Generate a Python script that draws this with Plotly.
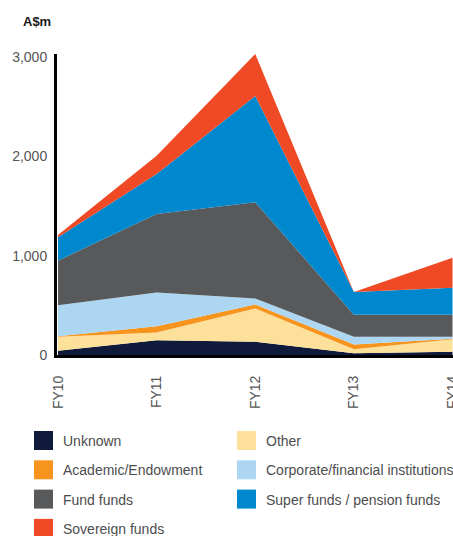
import plotly.graph_objects as go

# Financial years on the horizontal axis
years = ["FY10", "FY11", "FY12", "FY13", "FY14"]

# Commitments by investor type, A$m (stacked bottom to top)
unknown = [42, 149, 133, 18, 32]
other = [141, 77, 334, 40, 127]
academic = [6, 64, 41, 47, 5]
corporate = [311, 338, 60, 78, 19]
fund_funds = [450, 792, 969, 223, 223]
super_funds = [235, 402, 1070, 229, 272]
sovereign = [22, 183, 423, 0, 302]

series_names = [
    "Unknown",
    "Other",
    "Academic/Endowment",
    "Corporate/financial institutions",
    "Fund funds",
    "Super funds / pension funds",
    "Sovereign funds",
]
series_values = [unknown, other, academic, corporate, fund_funds, super_funds, sovereign]
series_colors = ["#101a3a", "#fde09a", "#f7941d", "#acd6f1", "#58595b", "#0088cf", "#ef4a25"]

y_ticks = [0, 1000, 2000, 3000]

W, H = 453, 536
L, R, T, B = 57, 0, 54, 181
PW, PH = W - L - R, H - T - B

fig = go.Figure()
x_idx = list(range(len(years)))
for name, vals, col in zip(series_names, series_values, series_colors):
    fig.add_trace(go.Scatter(
        x=x_idx, y=vals, name=name, stackgroup="one", mode="lines",
        line=dict(width=0, color=col), fillcolor=col, showlegend=False,
        hoverinfo="x+y+name",
    ))


def px_to_paper(px, py):
    return (px - L) / PW, (H - B - py) / PH


# Hand-laid two-column legend (row-major order)
shapes = []
annotations = []
col_x = [34, 237]
row_y0 = 431
row_gap = 29.3
for i, (name, col) in enumerate(zip(series_names, series_colors)):
    r, c = divmod(i, 2)
    sx = col_x[c]
    sy = row_y0 + r * row_gap
    x0, y0 = px_to_paper(sx, sy + 19)
    x1, y1 = px_to_paper(sx + 19, sy)
    shapes.append(dict(type="rect", xref="paper", yref="paper", x0=x0, y0=y0, x1=x1, y1=y1,
                       fillcolor=col, line=dict(width=0), layer="above"))
    tx, ty = px_to_paper(sx + 27, sy + 10)
    annotations.append(dict(xref="paper", yref="paper", x=tx, y=ty, text=name, showarrow=False,
                            xanchor="left", yanchor="middle",
                            font=dict(family="Liberation Sans, Arial, sans-serif", size=14, color="#4d4d4d")))

ux, uy = px_to_paper(21, 22)
annotations.append(dict(xref="paper", yref="paper", x=ux, y=uy, text="<b>A$m</b>", showarrow=False,
                        xanchor="left", yanchor="middle",
                        font=dict(family="Liberation Sans, Arial, sans-serif", size=13, color="#1a1a1a")))

fig.update_layout(
    width=W, height=H,
    margin=dict(l=L, r=R, t=T, b=B, pad=0),
    paper_bgcolor="white", plot_bgcolor="white",
    font=dict(family="Liberation Sans, Arial, sans-serif", size=14, color="#555555"),
    shapes=shapes, annotations=annotations,
    showlegend=False,
)
fig.update_xaxes(
    range=[-0.01, 4.005], tickvals=x_idx, ticktext=years, tickangle=-90,
    showgrid=False, zeroline=False, showline=True, linewidth=3, linecolor="#000000",
    ticks="", ticklabelstandoff=12, automargin=False, ticklabeloverflow="allow",
    tickfont=dict(size=14, color="#555555"),
)
fig.update_yaxes(
    range=[0, 3030], tickvals=y_ticks, tickformat=",",
    showgrid=False, zeroline=False, showline=True, linewidth=3, linecolor="#000000",
    ticks="", ticklabelstandoff=4, automargin=False,
    tickfont=dict(size=14, color="#555555"),
)

fig.write_html("out.html")
